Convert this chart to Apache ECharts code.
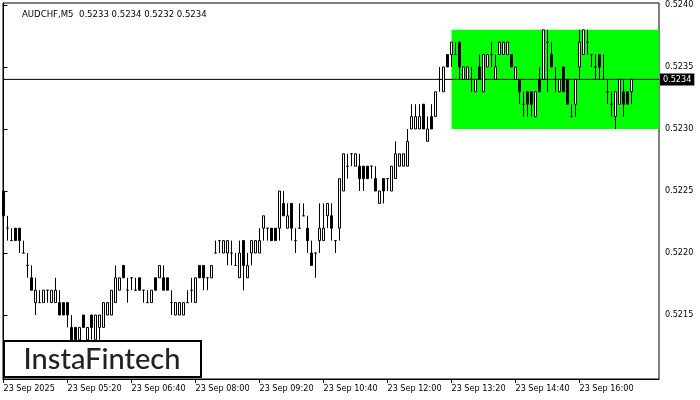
<!DOCTYPE html>
<html><head><meta charset="utf-8">
<script src="https://cdn.jsdelivr.net/npm/echarts@6/dist/echarts.min.js"></script>
<style>html,body{margin:0;padding:0;background:#fff}#c{width:700px;height:400px}</style>
</head><body><div id="c"></div>
<script>
// prices in pips above 0.5200 (e.g. 25 -> 0.5225)
const opens  = [25,22,21,22,22,20,19,18,16,16,16,17,16,16,16,16,16,14,14,13,15,13,15,13,14,14,15,15,16,17,19,17,18,17,18,17,16,16,18,18,18,18,16,15,15,15,16,17,16,19,19,18,18,20,21,20,20,20,19,18,21,18,20,20,20,22,22,22,22,22,24,22,24,21,22,23,22,20,20,21,21,23,23,21,22,25,27,28,27,27,27,27,27,26,24,26,26,25,26,27,27,27,30,30,30,32,29,31,31,34,33,36,36,36,37,34,34,34,33,35,33,35,36,34,36,36,36,36,34,34,32,33,33,31,34,34,37,36,34,33,35,34,31,32,35,36,37,36,35,36,34,33,32,31,32,33,33,33];
const highs  = [25,23,22,22,22,21,20,19,18,17,17,17,17,18,17,16,16,15,14,14,15,14,15,15,15,16,16,17,19,18,19,18,18,18,18,17,17,17,18,19,19,18,17,16,16,16,17,18,18,19,19,18,19,21,21,21,21,21,20,21,21,20,21,21,22,23,22,22,22,25,25,24,24,22,24,24,23,21,20,24,24,24,24,21,26,28,28,28,28,28,27,27,27,27,25,26,26,27,29,28,28,30,32,32,32,32,31,32,33,35,35,36,37,37,37,35,35,35,34,36,36,36,37,36,37,37,37,36,35,34,33,33,33,33,35,38,38,37,35,34,35,34,32,34,38,38,38,36,36,36,36,34,33,33,34,34,33,34];
const lows   = [23,21,21,21,20,20,18,17,15,16,16,16,16,16,15,15,14,13,13,13,14,13,13,13,13,14,15,15,16,17,18,16,17,17,17,16,16,16,17,18,17,17,15,15,15,15,16,16,16,18,17,17,18,20,20,20,19,19,19,18,17,18,19,20,20,21,21,21,21,21,23,22,21,20,22,23,20,19,18,20,21,22,21,20,21,25,26,27,27,25,25,26,26,25,24,24,25,25,26,27,27,27,30,30,30,30,29,30,31,33,33,35,35,36,34,34,34,33,33,34,33,35,35,34,36,36,36,35,34,32,31,31,31,31,33,34,33,35,33,33,33,32,31,31,34,36,36,35,34,34,34,32,31,30,32,31,32,32];
const closes = [23,22,21,21,21,20,19,17,17,16,17,17,17,17,15,15,15,13,13,14,14,14,14,15,15,16,16,17,18,18,18,17,18,17,17,17,16,17,17,19,17,17,16,16,16,16,16,17,18,18,18,18,19,20,21,21,21,20,19,20,19,19,21,21,21,23,22,21,21,25,23,23,22,21,22,23,21,19,20,22,22,24,22,21,26,28,27,28,28,26,26,26,27,25,25,25,26,27,28,28,28,29,31,31,31,30,30,30,33,34,35,35,37,36,35,35,35,34,34,34,36,36,36,35,37,37,37,35,35,33,32,32,32,33,33,38,37,35,34,34,33,32,31,34,37,38,37,36,35,35,34,33,32,33,34,32,32,34];
const xTickIdx = [0,16,32,48,64,80,96,112,128,144];
const xTickLabels = ['23 Sep 2025','23 Sep 05:20','23 Sep 06:40','23 Sep 08:00','23 Sep 09:20','23 Sep 10:40','23 Sep 12:00','23 Sep 13:20','23 Sep 14:40','23 Sep 16:00'];
const yTicks = [0.5215,0.5220,0.5225,0.5230,0.5235,0.5240];
const titleText = 'AUDCHF,M5  0.5233 0.5234 0.5232 0.5234';
const bidPrice = 0.5234;
const boxStart = 112, boxLow = 0.5230, boxHigh = 0.5238;
const xMin = -0.125, xMax = 163.875;

const P = v => +(0.52 + v/10000).toFixed(4);
const candles = opens.map((o,i)=>[i, P(o), P(closes[i]), P(lows[i]), P(highs[i])]);
const FONT = "'DejaVu Sans Condensed','Liberation Sans',sans-serif";

const chart = echarts.init(document.getElementById('c'), null, {renderer:'canvas'});
chart.setOption({
  animation:false,
  backgroundColor:'#fff',
  title:{text:titleText,left:17,top:5,textStyle:{fontSize:9.5,fontWeight:'normal',color:'#000',fontFamily:FONT}},
  grid:{left:3,right:41,top:3,bottom:21,show:true,borderColor:'#000',borderWidth:1,backgroundColor:'transparent'},
  xAxis:{type:'value',min:xMin,max:xMax,
    axisLine:{show:true,lineStyle:{color:'#000',width:1}},
    axisTick:{show:true,length:4,lineStyle:{color:'#000'},customValues:xTickIdx},
    axisLabel:{show:true,customValues:xTickIdx,align:'left',margin:5,color:'#000',fontSize:9,fontFamily:FONT,
      formatter:v=>{const k=xTickIdx.indexOf(Math.round(v));return k>=0?xTickLabels[k]:'';}},
    splitLine:{show:false}},
  yAxis:{type:'value',position:'right',min:0.520984,max:0.524016,scale:true,
    axisLine:{show:true,lineStyle:{color:'#000',width:1}},
    axisTick:{show:true,length:4,lineStyle:{color:'#000'},customValues:yTicks},
    axisLabel:{show:true,customValues:yTicks,margin:6,color:'#000',fontSize:9,fontFamily:FONT,formatter:v=>v.toFixed(4)},
    splitLine:{show:false}},
  graphic:[{type:'group',z:100,children:[
    {type:'rect',shape:{x:4,y:341,width:197,height:36},style:{fill:'#fff',stroke:'#000',lineWidth:2}},
    {type:'text',x:102,y:360,style:{text:'InstaFintech',font:"500 29px Lato, sans-serif",fill:'#222',textAlign:'center',textVerticalAlign:'middle'}}
  ]}],
  series:[
    {type:'line',data:[],z:1,silent:true,
      markArea:{silent:true,itemStyle:{color:'#00ff00',opacity:1},data:[[{xAxis:boxStart,yAxis:boxLow},{xAxis:xMax,yAxis:boxHigh}]]}},
    {type:'line',z:2,silent:true,symbol:'none',lineStyle:{color:'#000',width:1},
      data:[[xMin,bidPrice],[xMax,bidPrice]],
      endLabel:{show:true,distance:1,formatter:()=>bidPrice.toFixed(4),color:'#fff',backgroundColor:'#000',padding:[2,3,1,3],fontSize:9,fontFamily:FONT}},
    {type:'candlestick',z:3,barWidth:2,data:candles,encode:{x:0,y:[1,2,3,4]},
      itemStyle:{color:'#fff',color0:'#000',borderColor:'#000',borderColor0:'#000',borderColorDoji:'#000',borderWidth:1}}
  ]
});
</script></body></html>
